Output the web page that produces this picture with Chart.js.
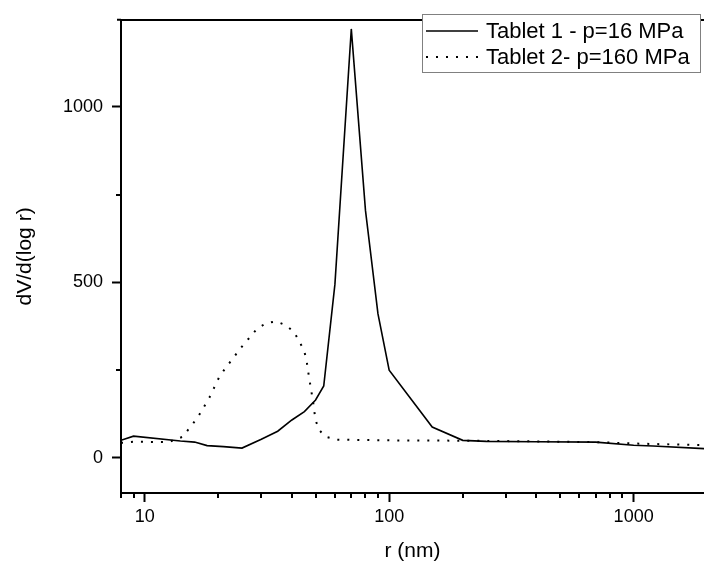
<!DOCTYPE html>
<html>
<head>
<meta charset="utf-8">
<script src="https://cdn.jsdelivr.net/npm/chart.js@4.4.1/dist/chart.umd.min.js"></script>
<style>
  html, body { margin: 0; padding: 0; background: #fff; }
</style>
</head>
<body>
<canvas id="chart" width="704" height="563"></canvas>
<script>
// pore size distribution
const tablet1R = [8, 9, 14, 16, 18, 21, 25, 30, 35, 40, 45, 50, 54, 60, 70, 80, 90, 100, 150, 200, 250, 400, 700, 1000, 1200, 2000];
const tablet1V = [50, 62, 48, 45, 35, 32, 28, 53, 76, 108, 132, 165, 205, 495, 1222, 705, 410, 250, 88, 50, 47, 46, 45, 36, 34, 26];

const tablet2R = [8, 9, 12.5, 14.3, 16.5, 18.4, 20.1, 21.4, 23, 24.5, 26.5, 28.8, 31.4, 34.5, 37.8, 40.8, 43, 45, 46, 46.6, 47.3, 48, 48.8, 49.3, 50, 51.6, 55, 61, 100, 200, 400, 700, 1000, 1500, 2000];
const tablet2V = [43, 46, 45, 60, 116, 172, 228, 256, 284, 310, 338, 368, 384, 389, 378, 359, 331, 303, 275, 247, 219, 191, 163, 137, 108, 80, 60, 52, 50, 49, 47, 45, 41, 38, 36];

const seriesLabels = ['Tablet 1 - p=16 MPa', 'Tablet 2- p=160 MPa'];

const xMajorTicks = [10, 100, 1000];
const xMinorTicks = [8, 9, 20, 30, 40, 50, 60, 70, 80, 90, 200, 300, 400, 500, 600, 700, 800, 900];
const yMajorTicks = [0, 500, 1000];
const yMinorTicks = [250, 750];

const FONT = "'Liberation Sans', Arial, sans-serif";

function toPoints(xs, ys) {
  return xs.map((x, i) => ({ x: x, y: ys[i] }));
}

// short tick marks for the minor ticks (grid only draws one tick length)
const minorTicks = {
  id: 'minorTicks',
  afterDraw(chart) {
    const ctx = chart.ctx;
    const xs = chart.scales.x;
    const ys = chart.scales.y;
    ctx.save();
    ctx.strokeStyle = '#000';
    ctx.lineWidth = 2;
    ctx.beginPath();
    xMinorTicks.forEach(v => {
      const px = Math.round(xs.getPixelForValue(v));
      ctx.moveTo(px, xs.top);
      ctx.lineTo(px, xs.top + 5);
    });
    yMinorTicks.forEach(v => {
      const py = Math.round(ys.getPixelForValue(v));
      ctx.moveTo(ys.right, py);
      ctx.lineTo(ys.right - 5, py);
    });
    // top frame line sticks out a little past the left axis
    ctx.moveTo(ys.right - 4, chart.chartArea.top);
    ctx.lineTo(ys.right, chart.chartArea.top);
    ctx.stroke();
    ctx.restore();
  }
};

// boxed legend in the upper right corner
const legendBox = {
  id: 'legendBox',
  afterDraw(chart) {
    const ctx = chart.ctx;
    const x0 = 422, y0 = 14, w = 278, h = 58;
    ctx.save();
    ctx.fillStyle = '#fff';
    ctx.fillRect(x0, y0 + 1, w, h - 1);
    ctx.strokeStyle = '#808080';
    ctx.lineWidth = 1;
    ctx.strokeRect(x0 + 0.5, y0 + 0.5, w, h);
    chart.data.datasets.forEach((ds, i) => {
      const cy = 31 + i * 26;
      ctx.strokeStyle = ds.borderColor;
      ctx.lineWidth = ds.borderWidth;
      ctx.setLineDash(ds.borderDash || []);
      ctx.beginPath();
      ctx.moveTo(426, cy);
      ctx.lineTo(478, cy);
      ctx.stroke();
      ctx.setLineDash([]);
      ctx.fillStyle = '#000';
      ctx.font = '22px ' + FONT;
      ctx.textBaseline = 'middle';
      ctx.textAlign = 'left';
      ctx.fillText(ds.label, 486, cy + 1);
    });
    ctx.restore();
  }
};

new Chart(document.getElementById('chart'), {
  type: 'line',
  data: {
    datasets: [{
      label: seriesLabels[0],
      data: toPoints(tablet1R, tablet1V),
      borderColor: '#000',
      borderWidth: 1.6,
      pointRadius: 0,
      tension: 0
    }, {
      label: seriesLabels[1],
      data: toPoints(tablet2R, tablet2V),
      borderColor: '#000',
      borderWidth: 2,
      borderDash: [2, 8],
      pointRadius: 0,
      tension: 0
    }]
  },
  options: {
    responsive: false,
    animation: false,
    devicePixelRatio: 1,
    layout: { padding: 0 },
    plugins: {
      legend: { display: false },
      tooltip: { enabled: false }
    },
    scales: {
      x: {
        type: 'logarithmic',
        position: 'bottom',
        min: 8,
        max: 1940,
        afterBuildTicks: s => { s.ticks = xMajorTicks.map(v => ({ value: v, major: true })); },
        afterFit: s => { s.height = 70; },
        ticks: {
          autoSkip: false,
          maxRotation: 0,
          padding: 4,
          color: '#000',
          font: { family: FONT, size: 18 },
          callback: v => String(v)
        },
        grid: {
          drawOnChartArea: false,
          drawTicks: true,
          tickLength: 9,
          tickWidth: 2,
          tickColor: '#000'
        },
        border: { color: '#000', width: 2 },
        title: {
          display: true,
          text: 'r (nm)',
          color: '#000',
          font: { family: FONT, size: 21, lineHeight: 1 },
          padding: { top: 0, bottom: 1 }
        }
      },
      x2: {
        type: 'linear',
        position: 'top',
        afterFit: s => { s.height = 14; },
        ticks: { display: false },
        grid: { drawOnChartArea: false, drawTicks: false },
        border: { color: '#000', width: 2 }
      },
      y: {
        type: 'linear',
        min: -100,
        max: 1248,
        afterBuildTicks: s => { s.ticks = yMajorTicks.map(v => ({ value: v })); },
        afterFit: s => { s.width = 121; },
        ticks: {
          padding: 9,
          color: '#000',
          font: { family: FONT, size: 18 },
          callback: v => String(v)
        },
        grid: {
          drawOnChartArea: false,
          drawTicks: true,
          tickLength: 9,
          tickWidth: 2,
          tickColor: '#000'
        },
        border: { color: '#000', width: 2 },
        title: {
          display: true,
          text: 'dV/d(log r)',
          color: '#000',
          font: { family: FONT, size: 21, lineHeight: 1 },
          padding: { top: 15, bottom: 0 }
        }
      }
    }
  },
  plugins: [minorTicks, legendBox]
});
</script>
</body>
</html>
